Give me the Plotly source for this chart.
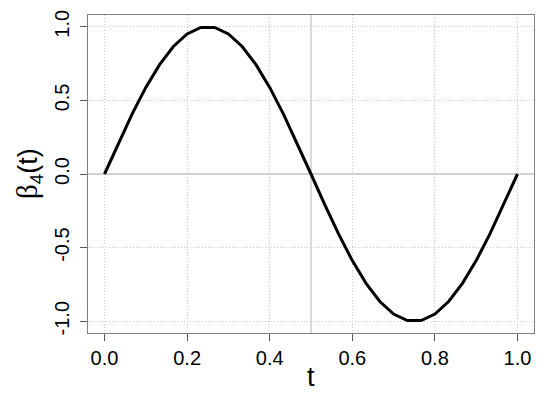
import plotly.graph_objects as go

t_vals = [0.0, 0.0333, 0.0667, 0.1, 0.1333, 0.1667, 0.2, 0.2333, 0.2667, 0.3,
          0.3333, 0.3667, 0.4, 0.4333, 0.4667, 0.5, 0.5333, 0.5667, 0.6, 0.6333,
          0.6667, 0.7, 0.7333, 0.7667, 0.8, 0.8333, 0.8667, 0.9, 0.9333, 0.9667, 1.0]
beta4 = [0.0, 0.208, 0.407, 0.588, 0.743, 0.866, 0.951, 0.995, 0.995, 0.951,
         0.866, 0.743, 0.588, 0.407, 0.208, 0.0, -0.208, -0.407, -0.588, -0.743,
         -0.866, -0.951, -0.995, -0.995, -0.951, -0.866, -0.743, -0.588, -0.407, -0.208, 0.0]

x_ticks = [0.0, 0.2, 0.4, 0.6, 0.8, 1.0]
x_tick_text = ["0.0", "0.2", "0.4", "0.6", "0.8", "1.0"]
y_ticks = [-1.0, -0.5, 0.0, 0.5, 1.0]
y_tick_text = ["-1.0", "-0.5", "0.0", "0.5", "1.0"]

x_title = "t"
y_title = '<span style="font-family:Liberation Serif;font-size:29px">β</span><sub>4</sub>(t)'

fig = go.Figure()

fig.add_hline(y=0, line=dict(color="#c4c4c4", width=1.3), layer="below")
fig.add_vline(x=0.5, line=dict(color="#c4c4c4", width=1.3), layer="below")

fig.add_trace(go.Scatter(x=t_vals, y=beta4, mode="lines",
                         line=dict(color="black", width=3), showlegend=False))

font = "Liberation Sans, Arial, sans-serif"

fig.update_layout(
    width=542, height=392,
    margin=dict(l=80, r=16, t=7, b=67, autoexpand=False),
    plot_bgcolor="white", paper_bgcolor="white",
    font=dict(family=font, color="black"),
    xaxis=dict(
        range=[-0.04, 1.04], tickvals=x_ticks, ticktext=x_tick_text,
        showgrid=True, gridcolor="#c8c8c8", griddash="1px,2px", gridwidth=1,
        zeroline=False, showline=True, mirror=True, linecolor="#808080", linewidth=1.2,
        ticks="outside", ticklen=7, tickcolor="#555555", automargin=False,
        tickfont=dict(size=20, family=font, color="black"),
    ),
    yaxis=dict(
        range=[-1.08, 1.08], tickvals=y_ticks, ticktext=y_tick_text,
        showgrid=True, gridcolor="#c8c8c8", griddash="1px,2px", gridwidth=1,
        zeroline=False, showline=True, mirror=True, linecolor="#808080", linewidth=1.2,
        ticks="outside", ticklen=7, tickcolor="#555555", tickangle=-90, automargin=False,
        ticklabelstandoff=3,
        tickfont=dict(size=20, family=font, color="black"),
    ),
    annotations=[
        dict(text=x_title, xref="paper", yref="paper", x=0.5, y=-0.138,
             xanchor="center", yanchor="middle", showarrow=False,
             font=dict(size=27, family=font, color="black")),
        dict(text=y_title, xref="paper", yref="paper", x=(29 - 88) / 446, y=0.5,
             xanchor="center", yanchor="middle", showarrow=False, textangle=-90,
             font=dict(size=27, family=font, color="black")),
    ],
)

fig.write_html("out.html")
